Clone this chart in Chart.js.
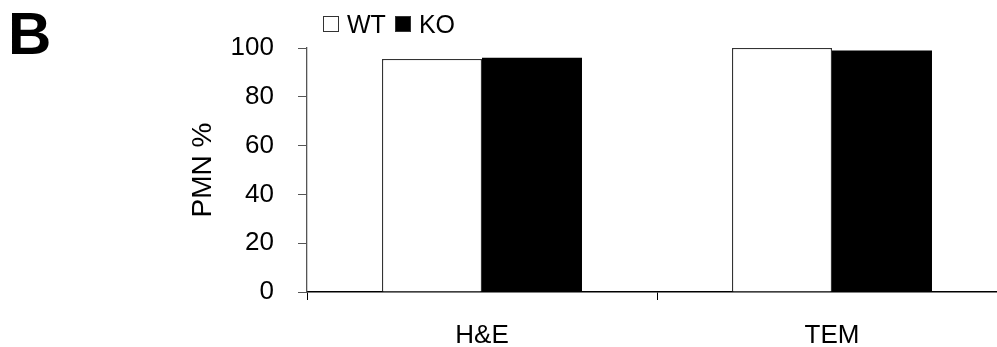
<!DOCTYPE html>
<html>
<head>
<meta charset="utf-8">
<script src="https://cdn.jsdelivr.net/npm/chart.js@4"></script>
<style>
    html, body { margin: 0; padding: 0; background: #fff; overflow: hidden; }
    body { width: 997px; height: 347px; position: relative; font-family: "Liberation Sans", Arial, sans-serif; }
    #wrap { position: absolute; left: 0; top: 0; width: 1007px; height: 347px; }
    #panel { position: absolute; left: 8px; top: 4px; font-size: 60px; line-height: 60px; font-weight: bold; color: #000; }
    #legend { position: absolute; left: 323px; top: 9px; display: flex; align-items: center; font-size: 25px; line-height: 30px; color: #000; }
    #legend .box { width: 16px; height: 16px; box-sizing: border-box; margin-right: 8px; }
    #legend .item { display: flex; align-items: center; margin-right: 9px; }
</style>
</head>
<body>
<div id="wrap"><canvas id="chart" width="1007" height="347"></canvas></div>
<div id="panel">B</div>
<div id="legend"></div>
<script>
// values
const categories = ['H&E', 'TEM'];
const seriesNames = ['WT', 'KO'];
const wtValues = [95.5, 100];
const koValues = [96, 99];
const yTicks = [0, 20, 40, 60, 80, 100];

const fontFamily = '"Liberation Sans", Arial, sans-serif';

const datasets = [
    {
        label: seriesNames[0],
        data: wtValues,
        backgroundColor: '#ffffff',
        borderColor: '#333333',
        borderWidth: 1.3
    },
    {
        label: seriesNames[1],
        data: koValues,
        backgroundColor: '#000000',
        borderColor: '#000000',
        borderWidth: 0
    }
];

const ctx = document.getElementById('chart').getContext('2d');
const chart = new Chart(ctx, {
    type: 'bar',
    data: { labels: categories, datasets: datasets },
    options: {
        responsive: false,
        animation: false,
        layout: { padding: { left: 180, top: 48, right: 0, bottom: 0 } },
        datasets: {
            bar: { categoryPercentage: 0.5714, barPercentage: 1.0 }
        },
        plugins: {
            legend: { display: false },
            tooltip: { enabled: false }
        },
        scales: {
            x: {
                grid: { drawOnChartArea: false, drawTicks: true, tickLength: 8, color: '#000', offset: true },
                border: { display: true, color: '#000', width: 1.5 },
                ticks: { color: '#000', padding: 20, font: { family: fontFamily, size: 26 } },
                afterFit: (scale) => { scale.height = 55; }
            },
            y: {
                min: 0,
                max: 100,
                afterBuildTicks: (scale) => { scale.ticks = yTicks.map(v => ({ value: v })); },
                grid: { drawOnChartArea: false, drawTicks: true, tickLength: 9, color: '#555' },
                border: { display: true, color: '#555', width: 1.3 },
                ticks: { color: '#000', padding: 24, font: { family: fontFamily, size: 26 } },
                title: {
                    display: true,
                    text: 'PMN %',
                    color: '#000',
                    font: { family: fontFamily, size: 28 },
                    padding: { top: 6, bottom: 0 }
                },
                afterFit: (scale) => { scale.width = 127; }
            }
        }
    }
});

// legend built from the datasets
const legendEl = document.getElementById('legend');
datasets.forEach(ds => {
    const item = document.createElement('div');
    item.className = 'item';
    item.innerHTML = `<span class="box" style="background:${ds.backgroundColor}; border:1px solid #333;"></span><span>${ds.label}</span>`;
    legendEl.appendChild(item);
});
</script>
</body>
</html>
